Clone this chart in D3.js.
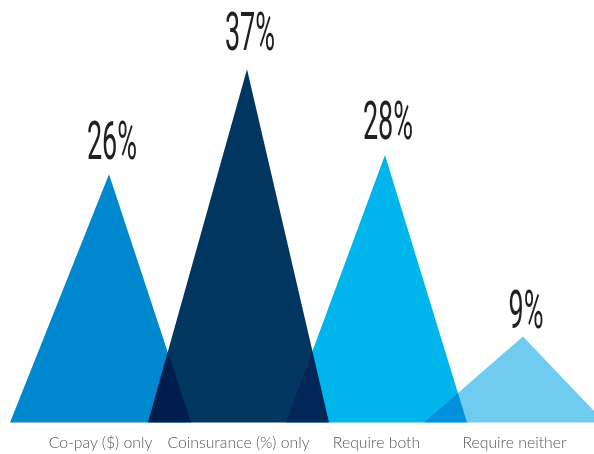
<!DOCTYPE html>
<html>
<head>
<meta charset="utf-8">
<script src="https://cdn.jsdelivr.net/npm/d3@7"></script>
<style>
  html, body { margin: 0; padding: 0; background: #fff; }
  svg { display: block; }
</style>
</head>
<body>
<svg id="chart" width="594" height="454"></svg>
<script>
const categories = ["Co-pay ($) only", "Coinsurance (%) only", "Require both", "Require neither"];
const values = [26, 37, 28, 9];
const valueLabels = ["26%", "37%", "28%", "9%"];
const colors = ["#0088CF", "#00365F", "#00B5EC", "#6FCCF0"];

const W = 594, H = 454;
const baseY = 422.5;
const svg = d3.select("#chart");

const x = d3.scalePoint().domain(categories).range([100.5, 514.5]);
const y = d3.scaleLinear().domain([0, 40]).range([baseY, baseY - 40 * 9.55]);
const yLabel = d3.scaleLinear().domain([0, 40]).range([417.5, 417.5 - 40 * 9.93]);

const halfBase = 90.5;
const apexShift = 8.5;

const g = svg.append("g").style("isolation", "isolate");

g.selectAll("path.tri")
  .data(categories)
  .join("path")
  .attr("class", "tri")
  .attr("d", (c, i) => {
    const cx = x(c);
    return `M${cx - halfBase},${baseY}L${cx + apexShift},${y(values[i])}L${cx + halfBase},${baseY}Z`;
  })
  .attr("fill", (c, i) => colors[i])
  .style("mix-blend-mode", "multiply");

// value labels (condensed)
svg.selectAll("text.val")
  .data(categories)
  .join("text")
  .attr("class", "val")
  .attr("transform", (c, i) => `translate(${x(c) + apexShift + 3},${yLabel(values[i])}) scale(0.5,1)`)
  .attr("text-anchor", "middle")
  .attr("font-family", "Roboto, 'Liberation Sans', sans-serif")
  .attr("font-weight", 400)
  .attr("font-size", 54)
  .attr("fill", "#231F20")
  .text((c, i) => valueLabels[i]);

// category labels
svg.selectAll("text.cat")
  .data(categories)
  .join("text")
  .attr("class", "cat")
  .attr("x", c => x(c))
  .attr("y", 448)
  .attr("text-anchor", "middle")
  .attr("font-family", "Lato, 'Open Sans', sans-serif")
  .attr("font-weight", 300)
  .attr("font-size", 15.8)
  .attr("fill", "#58595B")
  .text(c => c);
</script>
</body>
</html>
